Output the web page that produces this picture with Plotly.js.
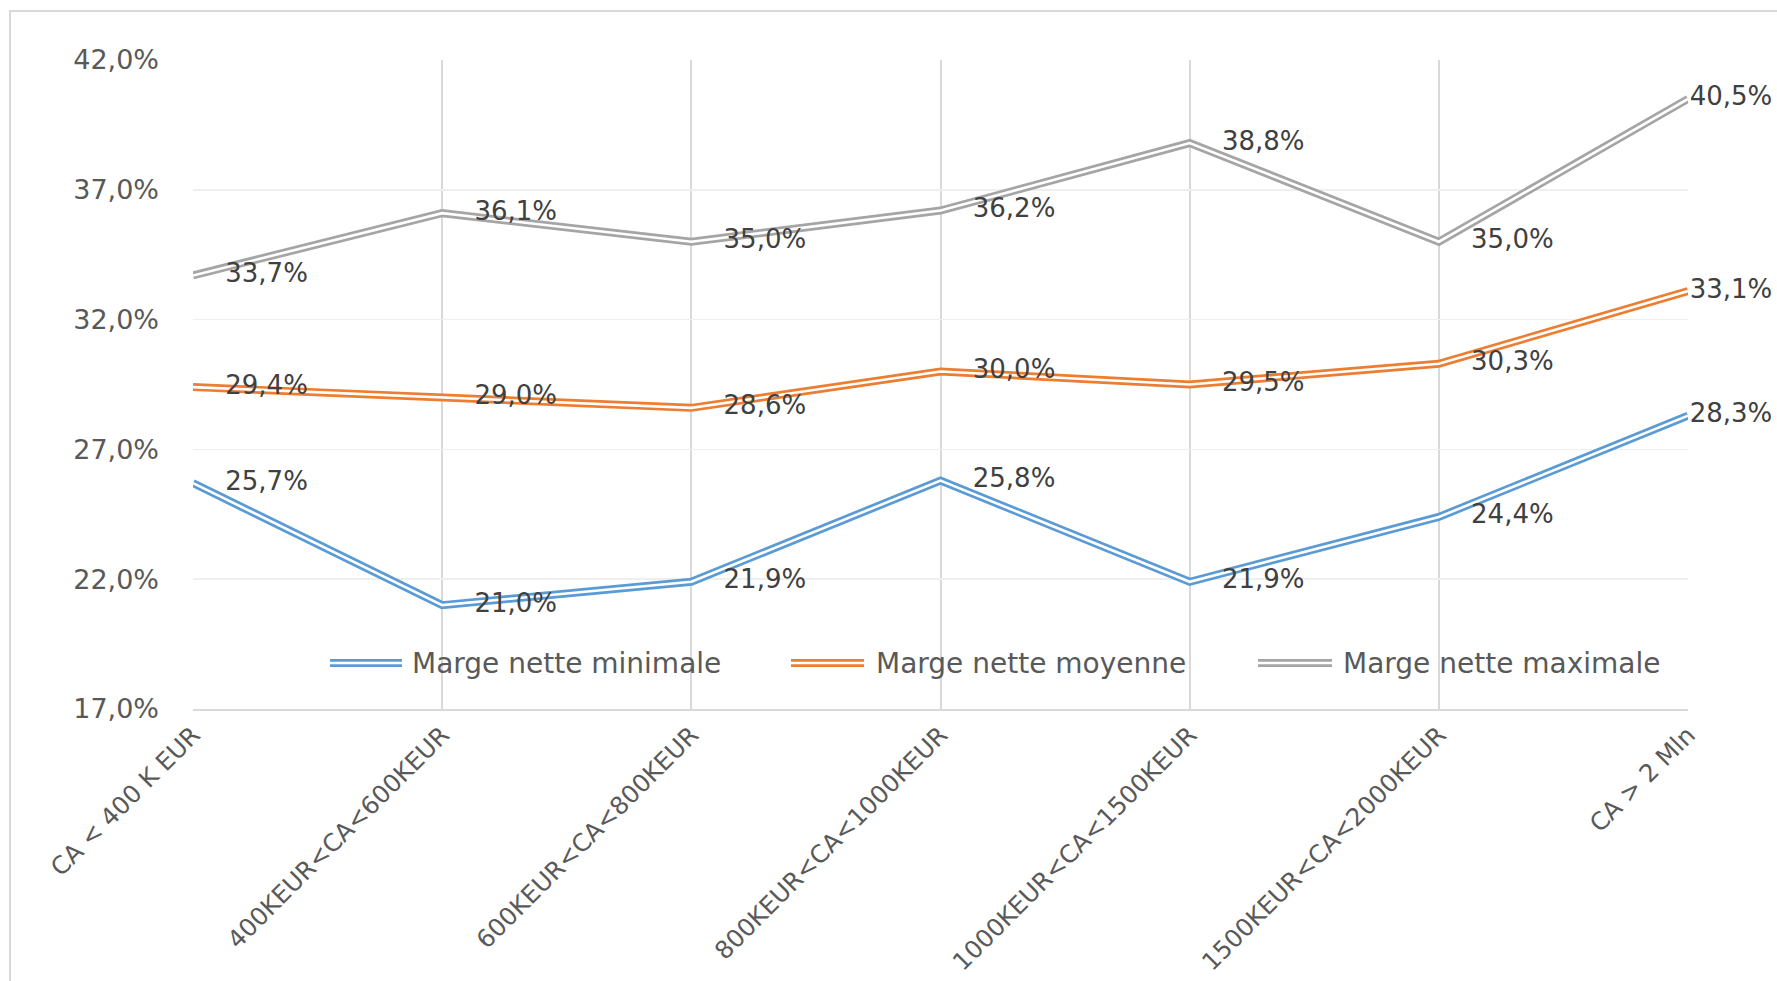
<!DOCTYPE html>
<html>
<head>
<meta charset="utf-8">
<script src="https://cdn.plot.ly/plotly-3.0.1.min.js"></script>
<style>
html,body{margin:0;padding:0;background:#fff;}
#chart{width:1777px;height:981px;}
</style>
</head>
<body>
<div id="chart"></div>
<script>
const categories = ["CA < 400 K EUR","400KEUR<CA<600KEUR","600KEUR<CA<800KEUR","800KEUR<CA<1000KEUR","1000KEUR<CA<1500KEUR","1500KEUR<CA<2000KEUR","CA > 2 Mln"];
const seriesNames = ["Marge nette minimale","Marge nette moyenne","Marge nette maximale"];
const margeMin = [25.7, 21.0, 21.9, 25.8, 21.9, 24.4, 28.3];
const margeMoy = [29.4, 29.0, 28.6, 30.0, 29.5, 30.3, 33.1];
const margeMax = [33.7, 36.1, 35.0, 36.2, 38.8, 35.0, 40.5];
const colors = ["#5B9BD5", "#ED7D31", "#A5A5A5"];
const yTicks = [17, 22, 27, 32, 37, 42];

const fmt = v => v.toFixed(1).replace('.', ',') + '%';
const FONT = "DejaVu Sans, Verdana, sans-serif";

const W = 1777, H = 981, ML = 193, MR = 89, MT = 60, MB = 272;
const PW = W - ML - MR, PH = H - MT - MB;
const px2x = p => (p - ML) / PW;
const py2y = p => (H - MB - p) / PH;

const LW = 8, GAP = 2.6;
const allSeries = [margeMin, margeMoy, margeMax];
const traces = [];
allSeries.forEach((vals, i) => {
  traces.push({
    x: categories, y: vals, type: 'scatter', mode: 'lines',
    name: seriesNames[i], line: {color: colors[i], width: LW},
    hoverinfo: 'skip', showlegend: false, cliponaxis: false
  });
  traces.push({
    x: categories, y: vals, type: 'scatter', mode: 'lines',
    line: {color: '#ffffff', width: GAP}, hoverinfo: 'skip',
    showlegend: false, cliponaxis: false
  });
});
allSeries.forEach((vals, i) => {
  traces.push({
    x: categories, y: vals, type: 'scatter', mode: 'markers+text',
    marker: {size: vals.map((v, k) => k === vals.length - 1 ? 1 : 50), opacity: 0, color: colors[i]},
    text: vals.map(fmt), textposition: 'middle right',
    textfont: {family: FONT, size: 26, color: '#404040'},
    showlegend: false, hoverinfo: 'skip', cliponaxis: false
  });
});

// custom legend (double-line samples + text)
const legendItems = [
  {x0: 330, x1: 402, tx: 410},
  {x0: 791, x1: 864, tx: 874},
  {x0: 1258, x1: 1332, tx: 1341}
];
const legendY = 663;
const shapes = [{
  type: 'rect', xref: 'paper', yref: 'paper',
  x0: px2x(10), x1: px2x(1900), y0: py2y(1100), y1: py2y(11),
  line: {color: '#d9d9d9', width: 2}, fillcolor: 'rgba(0,0,0,0)', layer: 'below'
}];
const annotations = [];
legendItems.forEach((it, i) => {
  shapes.push({type: 'line', xref: 'paper', yref: 'paper',
    x0: px2x(it.x0), x1: px2x(it.x1), y0: py2y(legendY), y1: py2y(legendY),
    line: {color: colors[i], width: LW}});
  shapes.push({type: 'line', xref: 'paper', yref: 'paper',
    x0: px2x(it.x0 - 1), x1: px2x(it.x1 + 1), y0: py2y(legendY), y1: py2y(legendY),
    line: {color: '#ffffff', width: GAP}});
  annotations.push({xref: 'paper', yref: 'paper', x: px2x(it.tx), y: py2y(legendY),
    xanchor: 'left', yanchor: 'middle', showarrow: false, text: seriesNames[i],
    font: {family: FONT, size: 28, color: '#595959'}});
});

const layout = {
  width: W, height: H,
  margin: {l: ML, r: MR, t: MT, b: MB, pad: 0},
  paper_bgcolor: '#ffffff', plot_bgcolor: '#ffffff',
  font: {family: FONT, size: 27, color: '#595959'},
  showlegend: false,
  xaxis: {
    type: 'category', range: [0, 6], tickangle: -45,
    showgrid: true, gridcolor: '#d9d9d9', gridwidth: 2,
    showline: true, linecolor: '#d9d9d9', linewidth: 2,
    ticks: '', zeroline: false, automargin: false,
    tickfont: {family: FONT, size: 24.5, color: '#595959'}
  },
  yaxis: {
    range: [17, 42], tickvals: yTicks, ticktext: yTicks.map(fmt),
    showgrid: true, gridcolor: '#efefef', gridwidth: 1.5,
    showline: false, zeroline: false, ticks: '', automargin: false,
    ticklabelstandoff: 33,
    tickfont: {family: FONT, size: 27, color: '#595959'}
  },
  shapes: shapes,
  annotations: annotations
};

Plotly.newPlot('chart', traces, layout, {displayModeBar: false, staticPlot: true});
</script>
</body>
</html>
